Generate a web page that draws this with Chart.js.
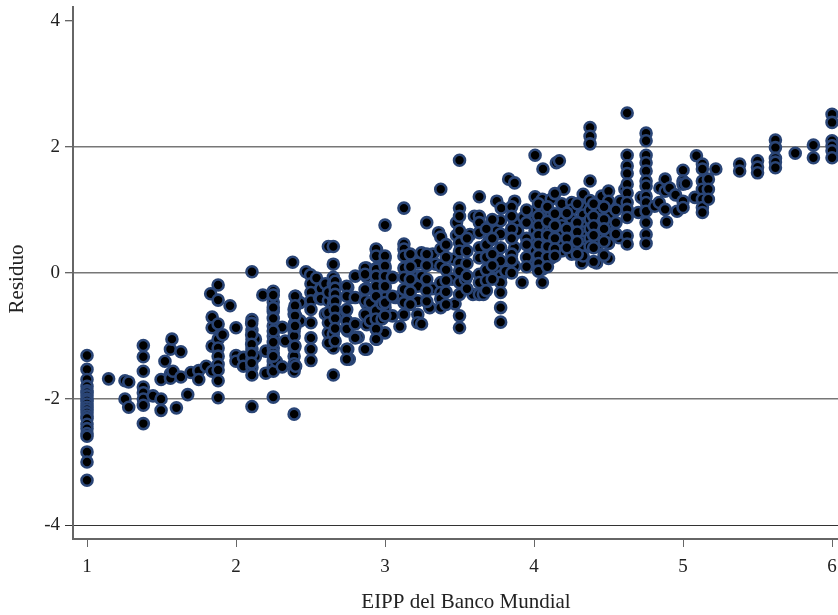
<!DOCTYPE html>
<html>
<head>
<meta charset="utf-8">
<title>Residuo</title>
<script src="https://cdn.jsdelivr.net/npm/chart.js@4"></script>
<style>
  html, body { margin: 0; padding: 0; background: #fff; }
  canvas { display: block; }
</style>
</head>
<body>
<canvas id="chart" width="838" height="615"></canvas>
<script>
/* DATOS: cada columna de puntos = un valor de EIPP y sus residuos */
const xTicks = [1, 2, 3, 4, 5, 6];
const yTicks = [-4, -2, 0, 2, 4];
const xTitle = "EIPP del Banco Mundial";
const yTitle = "Residuo";

const eipp = [
  1, 1.145, 1.255, 1.28, 1.378, 1.443, 1.497, 1.523, 1.56, 1.57, 1.577, 1.6, 1.63, 1.676, 1.698, 1.75, 1.8,
  1.83, 1.84, 1.88, 1.91, 1.96, 2, 2.05, 2.107, 2.13, 2.18, 2.2, 2.25, 2.27, 2.31, 2.33, 2.38, 2.39, 2.4, 2.43,
  2.47, 2.5, 2.503, 2.54, 2.56, 2.57, 2.6, 2.62, 2.63, 2.653, 2.71, 2.74, 2.75, 2.76, 2.77, 2.79, 2.82, 2.877,
  2.944, 3, 3.05, 3.07, 3.1, 3.127, 3.22, 3.245, 3.28, 3.3, 3.32, 3.34, 3.36, 3.374, 3.45, 3.46, 3.47, 3.48, 3.5,
  3.54, 3.57, 3.59, 3.6, 3.633, 3.66, 3.69, 3.7, 3.75, 3.776, 3.78, 3.81, 3.83, 3.87, 3.89, 3.92, 3.93, 4.007,
  4.056, 4.06, 4.116, 4.15, 4.17, 4.186, 4.2, 4.253, 4.32, 4.33, 4.376, 4.42, 4.43, 4.454, 4.5, 4.57, 4.58, 4.61,
  4.625, 4.7, 4.72, 4.752, 4.81, 4.84, 4.845, 4.88, 4.89, 4.91, 4.95, 4.96, 5, 5.02, 5.08, 5.09, 5.13, 5.17, 5.22,
  5.38, 5.5, 5.62, 5.753, 5.875, 6,
  /* zona densa */
  2.105, 2.25, 2.396, 2.62, 2.665, 2.743, 2.8, 2.866, 2.9, 2.94, 2.98, 3, 3.05, 3.17, 3.28, 3.41, 3.55, 3.68,
  3.72, 3.85, 3.95, 4.03, 4.09, 4.14, 4.22, 4.29, 4.4, 4.47, 4.55
];

const residuo = [
  [-1.31, -1.53, -1.69, -1.8, -1.87, -1.9, -1.95, -2, -2.03, -2.08, -2.13, -2.17, -2.22, -2.27, -2.31, -2.4, -2.47, -2.55, -2.59, -2.84, -3, -3.29],
  [-1.68],
  [-1.71, -2],
  [-1.73, -2.13],
  [-1.15, -1.33, -1.56, -1.81, -1.9, -2, -2.1, -2.39],
  [-1.95],
  [-1.69, -2, -2.18],
  [-1.4],
  [-1.21, -1.6, -1.67],
  [-1.05],
  [-1.56],
  [-2.14],
  [-1.25, -1.65],
  [-1.93],
  [-1.58],
  [-1.55, -1.69],
  [-1.48],
  [-0.33],
  [-0.7, -0.87, -1.16, -1.56],
  [-0.19, -0.43, -0.81, -1.05, -1.19, -1.32, -1.45, -1.54, -1.71, -1.98],
  [-0.98],
  [-0.52],
  [-0.87, -1.31, -1.4],
  [-1.34, -1.48],
  [0.02, -0.74, -0.91, -1.05, -1.21, -1.37, -1.5, -1.62, -2.12],
  [-1.05, -1.33],
  [-0.35],
  [-1.24, -1.59],
  [-0.29, -0.46, -0.61, -0.84, -1, -1.19, -1.27, -1.4, -1.48, -1.56, -1.97],
  [-1.4],
  [-0.86, -1.49],
  [-1.08],
  [0.17],
  [-0.58, -0.65, -0.81, -0.92, -1, -1.19, -1.32, -1.44, -1.56, -2.24],
  [-0.37, -0.68, -0.76, -1.48],
  [-0.47, -0.76],
  [0.02],
  [-0.03],
  [-0.17, -0.31, -0.44, -0.58, -0.79, -1.03, -1.21, -1.39],
  [-0.08],
  [-0.39],
  [-0.25, -0.41],
  [-0.17, -0.65],
  [0.42, -0.44, -0.95],
  [-1.13],
  [0.42, 0.14, -0.07, -0.18, -0.29, -0.39, -0.5, -0.66, -0.79, -0.97, -1.19, -1.62],
  [-0.68],
  [-0.6],
  [-0.23, -0.92, -1.21],
  [-1.37],
  [-0.39],
  [-0.81],
  [-1.02],
  [0.08, -0.06, -0.25, -0.49, -0.68, -0.82, -1.21],
  [0.37, 0.27, 0.08, -0.07, -0.21, -0.34, -0.5, -0.6, -0.76, -0.89, -1.05],
  [0.76, 0.24, 0.08, -0.1, -0.23, -0.39, -0.55, -0.95],
  [-0.68],
  [-0.39],
  [-0.37, -0.85],
  [1.03, 0.46, 0.38, 0.27, 0.08, -0.07, -0.26, -0.47, -0.66],
  [0.16, -0.05, -0.21, -0.44, -0.66, -0.79],
  [0.32, -0.05, -0.81],
  [0.8],
  [-0.55],
  [0.3, -0.25],
  [0.14],
  [0.64],
  [1.33, 0.57, 0.38, 0.11, -0.15, -0.31, -0.41, -0.55],
  [-0.1],
  [0.22],
  [-0.49],
  [0.8, 0.6],
  [1.79, 1.03, 0.9, 0.67, 0.48, 0.35, 0.16, 0.03, -0.15, -0.34, -0.68, -0.87],
  [-0.1],
  [0.61],
  [-0.34],
  [0.9],
  [1.21, 0.9, 0.8, 0.64, 0.4, 0.24, -0.02, -0.15, -0.34],
  [-0.34],
  [0.08],
  [0.51],
  [1.14, 0.67, 0.32, 0.08],
  [0.83, 0.62, 0.4, 0.19, -0.05, -0.15, -0.31, -0.55, -0.78],
  [1.03],
  [0.03],
  [1.49],
  [1.43, 1.14, 0.8, 0.62, 0.4, 0.11],
  [0.67],
  [-0.15],
  [0.88],
  [1.87, 1.21, 0.98, 0.85, 0.67, 0.51, 0.35, 0.14],
  [1.17, 0.96, 0.67, 0.51, 0.35, 0.06, -0.15],
  [1.65],
  [1.17, 0.93, 0.67, 0.48, 0.24],
  [1.75],
  [1.78],
  [1.1, 0.9, 0.75, 0.6, 0.45, 0.35],
  [1.33],
  [1.12, 1, 0.85, 0.7, 0.55, 0.42, 0.3],
  [0.16],
  [1.25, 1.05, 0.92, 0.78, 0.65, 0.5, 0.38, 0.27],
  [2.31, 2.17, 2.05, 1.46, 1.15, 1, 0.85, 0.7, 0.55, 0.42],
  [0.16],
  [0.98, 0.85, 0.7, 0.55, 0.45],
  [1.22],
  [1.3, 1.14, 0.9, 0.78, 0.62, 0.47, 0.23],
  [0.56],
  [1.14],
  [1.33],
  [2.54, 1.87, 1.7, 1.58, 1.41, 1.27, 1.12, 1.01, 0.88, 0.59, 0.46],
  [0.96],
  [1.2],
  [2.22, 2.1, 1.87, 1.75, 1.62, 1.46, 1.38, 1.22, 1.12, 0.98, 0.8, 0.61, 0.47],
  [1.06],
  [1.12],
  [1.35],
  [1.49, 1.3, 1.01],
  [0.81],
  [1.35],
  [1.24],
  [0.98],
  [1.63, 1.46, 1.41, 1.14, 1.04],
  [1.42],
  [1.2],
  [1.86],
  [1.73, 1.65, 1.46, 1.33, 1.17, 1.04, 0.96],
  [1.49, 1.33, 1.17],
  [1.65],
  [1.73, 1.62],
  [1.78, 1.68, 1.59],
  [2.11, 1.99, 1.82, 1.76, 1.67],
  [1.9],
  [2.03, 1.83],
  [2.52, 2.39, 2.1, 2.02, 1.94, 1.83],
  /* zona densa */
  [-0.8, -0.98, -1.13, -1.28, -1.43],
  [-0.35, -0.55, -0.72, -0.92, -1.1, -1.32],
  [-0.37, -0.52, -0.68, -0.84, -1.16],
  [-0.31, -0.63, -0.79, -1.11],
  [-0.13, -0.24, -0.34, -0.45, -0.58, -0.72, -0.88, -1.08],
  [-0.21, -0.37, -0.58, -0.76, -0.89, -1.21, -1.37],
  [-0.05, -0.39, -0.81, -1.03],
  [0.08, -0.02, -0.26, -0.44, -0.66, -1.21],
  [-0.47, -0.76],
  [0.38, 0.27, 0.06, -0.05, -0.21, -0.37, -0.6, -0.73, -0.89, -1.05],
  [-0.49, -0.73],
  [0.27, 0.11, -0.05, -0.21, -0.47, -0.68],
  [-0.07, -0.37],
  [0.3, 0.1, -0.1, -0.3, -0.5],
  [0.3, 0.12, -0.1, -0.28, -0.45],
  [0.45, 0.25, 0.05, -0.12, -0.3, -0.5],
  [0.55, 0.35, 0.15, -0.05, -0.25],
  [0.7, 0.45, 0.25, 0.05, -0.12, -0.28],
  [0.85, 0.55, 0.3, 0.12, -0.1],
  [1.05, 0.9, 0.7, 0.55, 0.3, 0.2, 0],
  [1, 0.8, 0.55, 0.45, 0.25, 0.1],
  [1.1, 0.9, 0.75, 0.6, 0.45, 0.28, 0.15, 0.03],
  [1.05, 0.82, 0.6, 0.42, 0.25, 0.1],
  [1.26, 0.94, 0.75, 0.55, 0.38, 0.27],
  [0.95, 0.7, 0.55, 0.4],
  [1.1, 0.8, 0.65, 0.5, 0.3],
  [1.1, 0.9, 0.75, 0.6, 0.4, 0.18],
  [1.05, 0.85, 0.7, 0.5, 0.28],
  [1, 0.8, 0.62]
];

/* la tabla de puntos para Chart.js */
const puntos = [];
eipp.forEach((x, i) => {
  residuo[i].forEach(y => puntos.push({ x, y }));
});

const serif = "'Liberation Serif', serif";
const tickFont = { family: serif, size: 19 };
const ink = "#222";
const axisGray = "#666";

/* títulos de eje: en el original no están centrados sobre el área */
const axisTitles = {
  id: "axisTitles",
  afterDraw(chart) {
    const ctx = chart.ctx;
    ctx.save();
    ctx.fillStyle = ink;
    ctx.font = "21px " + serif;
    ctx.textAlign = "center";
    ctx.textBaseline = "alphabetic";
    ctx.fillText(xTitle, 466, 608);
    ctx.translate(23, 279);
    ctx.rotate(-Math.PI / 2);
    ctx.fillText(yTitle, 0, 0);
    ctx.restore();
  }
};

new Chart(document.getElementById("chart"), {
  type: "scatter",
  plugins: [axisTitles],
  data: {
    datasets: [{
      data: puntos,
      backgroundColor: "#000",
      borderColor: "#2a4576",
      borderWidth: 2.6,
      pointRadius: 5.5,
      pointHoverRadius: 5.5,
      clip: false
    }]
  },
  options: {
    responsive: false,
    animation: false,
    layout: { autoPadding: false, padding: { top: 7, right: 0, bottom: 0, left: 0 } },
    plugins: { legend: { display: false }, tooltip: { enabled: false } },
    scales: {
      x: {
        type: "linear",
        min: 0.906,
        max: 6.04,
        afterBuildTicks: s => { s.ticks = xTicks.map(value => ({ value })); },
        afterFit: s => { s.height = 76; s.paddingLeft = 0; s.paddingRight = 0; },
        grid: { drawOnChartArea: false, tickLength: 8, tickColor: axisGray, tickWidth: 1 },
        border: { color: axisGray, width: 2 },
        ticks: { color: ink, font: tickFont, padding: 9, maxRotation: 0, callback: v => String(v) },
        title: { display: false }
      },
      y: {
        type: "linear",
        min: -4.222,
        max: 4.222,
        afterBuildTicks: s => { s.ticks = yTicks.map(value => ({ value })); },
        afterFit: s => { s.width = 73; s.paddingTop = 0; s.paddingBottom = 0; },
        grid: {
          color: c => {
            if (c.tick && c.tick.value === 4) return "rgba(0,0,0,0)";
            return c.tick && c.tick.value === -4 ? "#333" : "#777";
          },
          lineWidth: c => (c.tick && c.tick.value === -4 ? 1 : 1.5),
          tickColor: "#333",
          tickWidth: 1,
          tickLength: 8
        },
        border: { color: axisGray, width: 2 },
        ticks: { color: ink, font: tickFont, padding: 5, callback: v => String(v) },
        title: { display: false }
      }
    }
  }
});
</script>
</body>
</html>
